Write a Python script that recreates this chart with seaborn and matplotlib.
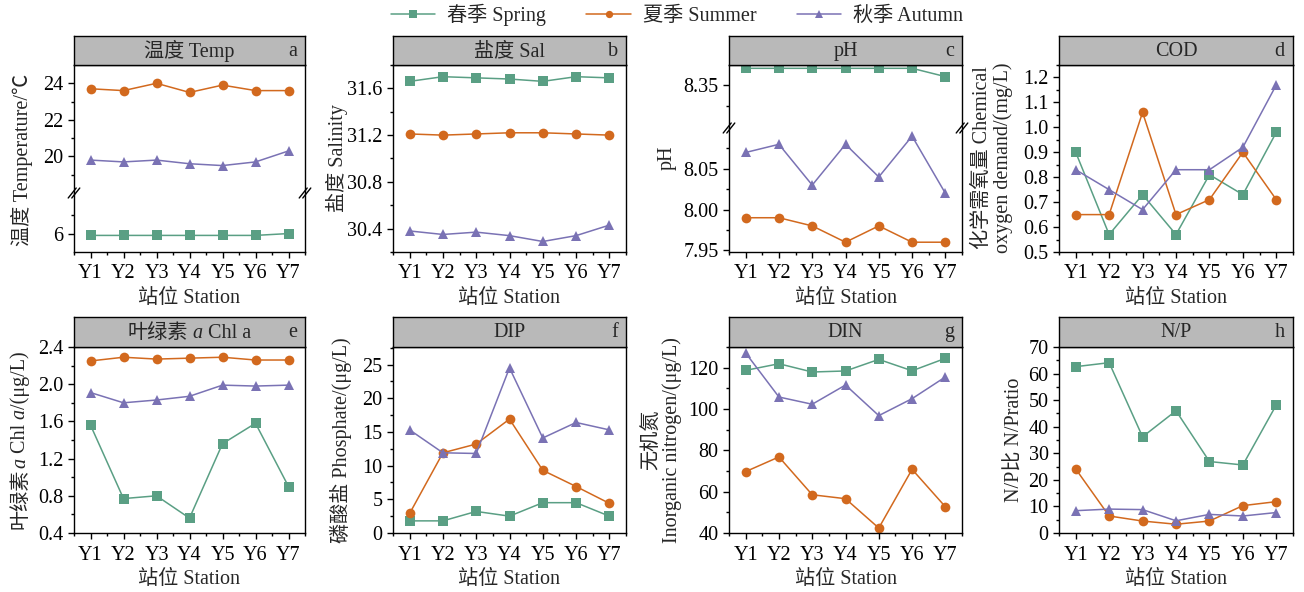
import matplotlib
matplotlib.use('Agg')
import numpy as np
import pandas as pd
import seaborn as sns
import matplotlib.pyplot as plt
from matplotlib.lines import Line2D
from matplotlib.ticker import MultipleLocator, FixedLocator, FormatStrFormatter
from matplotlib.transforms import offset_copy

# 站位与季节
stations = ['Y1', 'Y2', 'Y3', 'Y4', 'Y5', 'Y6', 'Y7']
seasons = ['春季 Spring', '夏季 Summer', '秋季 Autumn']

# 温度 Temp
temp_spring = [5.9, 5.9, 5.9, 5.9, 5.9, 5.9, 6.0]
temp_summer = [23.7, 23.6, 24.0, 23.5, 23.9, 23.6, 23.6]
temp_autumn = [19.8, 19.7, 19.8, 19.6, 19.5, 19.7, 20.3]
# 盐度 Sal
sal_spring = [31.66, 31.70, 31.69, 31.68, 31.66, 31.70, 31.69]
sal_summer = [31.21, 31.20, 31.21, 31.22, 31.22, 31.21, 31.20]
sal_autumn = [30.38, 30.35, 30.37, 30.34, 30.29, 30.34, 30.43]
# pH
ph_spring = [8.37, 8.37, 8.37, 8.37, 8.37, 8.37, 8.36]
ph_summer = [7.99, 7.99, 7.98, 7.96, 7.98, 7.96, 7.96]
ph_autumn = [8.07, 8.08, 8.03, 8.08, 8.04, 8.09, 8.02]
# COD
cod_spring = [0.90, 0.57, 0.73, 0.57, 0.81, 0.73, 0.98]
cod_summer = [0.65, 0.65, 1.06, 0.65, 0.71, 0.90, 0.71]
cod_autumn = [0.83, 0.75, 0.67, 0.83, 0.83, 0.92, 1.17]
# 叶绿素 a
chl_spring = [1.56, 0.77, 0.80, 0.56, 1.36, 1.58, 0.90]
chl_summer = [2.25, 2.29, 2.27, 2.28, 2.29, 2.26, 2.26]
chl_autumn = [1.91, 1.80, 1.83, 1.87, 1.99, 1.98, 1.99]
# DIP
dip_spring = [1.8, 1.8, 3.2, 2.5, 4.5, 4.5, 2.5]
dip_summer = [2.9, 11.9, 13.2, 16.9, 9.3, 6.9, 4.4]
dip_autumn = [15.3, 11.9, 11.8, 24.5, 14.1, 16.4, 15.3]
# DIN
din_spring = [118.7, 121.9, 117.9, 118.4, 124.0, 118.5, 124.5]
din_summer = [69.7, 76.8, 58.5, 56.6, 42.4, 70.8, 52.7]
din_autumn = [127.1, 105.8, 102.3, 111.6, 96.8, 105.0, 115.5]
# N/P
np_spring = [62.6, 64.1, 36.2, 46.0, 26.9, 25.6, 48.2]
np_summer = [24.1, 6.4, 4.5, 3.3, 4.5, 10.3, 11.8]
np_autumn = [8.4, 9.0, 8.8, 4.6, 7.0, 6.4, 7.7]

palette = {'春季 Spring': '#5a9f84', '夏季 Summer': '#d2691e', '秋季 Autumn': '#7a72b4'}
markers = {'春季 Spring': 's', '夏季 Summer': 'o', '秋季 Autumn': '^'}

sns.set_theme(style='ticks')
plt.rcParams['font.family'] = ['Liberation Serif', 'Noto Sans CJK SC']
plt.rcParams['axes.linewidth'] = 1.0
plt.rcParams['axes.edgecolor'] = 'black'
plt.rcParams['xtick.color'] = 'black'
plt.rcParams['ytick.color'] = 'black'
FS = 14.5

W, H = 1304, 592
fig = plt.figure(figsize=(W / 100, H / 100), dpi=100)


def rect(l, t, r, b):
    return [l / W, 1 - b / H, (r - l) / W, (b - t) / H]


def long_df(spring, summer, autumn):
    return pd.DataFrame({
        'station': stations * 3,
        'season': np.repeat(seasons, len(stations)),
        'value': spring + summer + autumn,
    })


def draw_lines(ax, df, legend=False):
    sns.lineplot(data=df, x='station', y='value', hue='season', style='season',
                 palette=palette, markers=markers, dashes=False, markersize=7,
                 markeredgewidth=0, linewidth=1.1, errorbar=None, ax=ax,
                 legend=legend)
    ax.set_xlabel('')
    ax.set_ylabel('')


def style_axis(ax, ylim, major, minor, show_x=True):
    ax.set_xlim(-0.5, 6.5)
    ax.set_ylim(*ylim)
    ax.yaxis.set_major_locator(FixedLocator(major) if isinstance(major, list) else MultipleLocator(major))
    ax.yaxis.set_minor_locator(FixedLocator(minor) if isinstance(minor, list) else MultipleLocator(minor))
    ax.xaxis.set_minor_locator(MultipleLocator(0.5))
    ax.tick_params(which='major', length=4, width=1, direction='out', labelsize=FS)
    ax.tick_params(which='minor', length=2.5, width=1, direction='out')
    ax.tick_params(axis='x', which='major', pad=5)
    if not show_x:
        ax.tick_params(axis='x', which='both', bottom=False, labelbottom=False)


def header(l, r, t, b, title, letter):
    hx = fig.add_axes(rect(l, t, r, b))
    hx.set_facecolor('#b9b9b9')
    hx.set_xticks([])
    hx.set_yticks([])
    if title is not None:
        hx.text(0.5, 0.47, title, ha='center', va='center', fontsize=FS, transform=hx.transAxes)
    hx.text(0.965, 0.47, letter, ha='right', va='center', fontsize=FS, transform=hx.transAxes)
    return hx


def break_marks(l, r, y):
    for x in (l, r):
        for o in (-1.8, 1.8):
            xs = [(x - 4 + o) / W, (x + 4 + o) / W]
            ys = [1 - (y + 5) / H, 1 - (y - 5) / H]
            fig.add_artist(Line2D(xs, ys, color='black', lw=1.0, transform=fig.transFigure))


def rich_text(x, y, pieces, rotation=0):
    renderer = fig.canvas.get_renderer()
    texts, lengths = [], []
    for s, st in pieces:
        t = fig.text(x, y, s, fontsize=FS, fontstyle=st, rotation=rotation,
                     rotation_mode='anchor', ha='left', va='baseline')
        bb = t.get_window_extent(renderer)
        texts.append(t)
        lengths.append(bb.width if rotation == 0 else bb.height)
    pos = -sum(lengths) / 2
    for t, L in zip(texts, lengths):
        dx, dy = (pos, 0) if rotation == 0 else (0, pos)
        t.set_transform(offset_copy(fig.transFigure, fig=fig, x=dx, y=dy, units='dots'))
        pos += L


cols = [(74, 305), (393, 626), (729, 962), (1059, 1293)]
row1 = (36, 65, 252)
row2 = (317, 347, 533)

# ---- a: 温度 (断轴) ----
l, r = cols[0]
df = long_df(temp_spring, temp_summer, temp_autumn)
ax_up = fig.add_axes(rect(l, row1[1], r, 193))
ax_lo = fig.add_axes(rect(l, 193, r, row1[2]))
draw_lines(ax_up, df)
draw_lines(ax_lo, df)
style_axis(ax_up, (18, 25), [20, 22, 24], [19, 21, 23], show_x=False)
style_axis(ax_lo, (5, 8.2), [6], [7])
ax_up.spines['bottom'].set_visible(False)
ax_lo.spines['top'].set_visible(False)
ax_lo.set_xlabel('站位 Station', fontsize=FS)
break_marks(l, r, 193)
header(l, r, row1[0], row1[1], '温度 Temp', 'a')
fig.text(22 / W, 1 - 160 / H, '温度 Temperature/℃', rotation=90, ha='center', va='center', fontsize=FS)

# ---- b: 盐度 ----
l, r = cols[1]
ax = fig.add_axes(rect(l, row1[1], r, row1[2]))
draw_lines(ax, long_df(sal_spring, sal_summer, sal_autumn), legend=True)
leg = ax.get_legend()
handles = leg.legend_handles
labels = [t.get_text() for t in leg.get_texts()]
leg.remove()
style_axis(ax, (30.2, 31.8), [30.4, 30.8, 31.2, 31.6], 0.2)
ax.set_xlabel('站位 Station', fontsize=FS)
header(l, r, row1[0], row1[1], '盐度 Sal', 'b')
fig.text(337 / W, 1 - 158 / H, '盐度 Salinity', rotation=90, ha='center', va='center', fontsize=FS)

# ---- c: pH (断轴) ----
l, r = cols[2]
df = long_df(ph_spring, ph_summer, ph_autumn)
ax_up = fig.add_axes(rect(l, row1[1], r, 128))
ax_lo = fig.add_axes(rect(l, 128, r, row1[2]))
draw_lines(ax_up, df)
draw_lines(ax_lo, df)
style_axis(ax_up, (8.298, 8.374), [8.35], [8.325], show_x=False)
style_axis(ax_lo, (7.948, 8.10), [7.95, 8.00, 8.05], [7.975, 8.025, 8.075])
ax_lo.yaxis.set_major_formatter(FormatStrFormatter('%.2f'))
ax_up.yaxis.set_major_formatter(FormatStrFormatter('%.2f'))
ax_up.spines['bottom'].set_visible(False)
ax_lo.spines['top'].set_visible(False)
ax_lo.set_xlabel('站位 Station', fontsize=FS)
break_marks(l, r, 128)
header(l, r, row1[0], row1[1], 'pH', 'c')
fig.text(667 / W, 1 - 158 / H, 'pH', rotation=90, ha='center', va='center', fontsize=FS)

# ---- d: COD ----
l, r = cols[3]
ax = fig.add_axes(rect(l, row1[1], r, row1[2]))
draw_lines(ax, long_df(cod_spring, cod_summer, cod_autumn))
style_axis(ax, (0.5, 1.25), 0.1, 0.05)
ax.yaxis.set_major_formatter(FormatStrFormatter('%.1f'))
ax.set_xlabel('站位 Station', fontsize=FS)
header(l, r, row1[0], row1[1], 'COD', 'd')
fig.text(993 / W, 1 - 158 / H, '化学需氧量 Chemical\noxygen demand/(mg/L)', rotation=90,
         ha='center', va='center', fontsize=FS, linespacing=1.05)

# ---- e: 叶绿素 a ----
l, r = cols[0]
ax = fig.add_axes(rect(l, row2[1], r, row2[2]))
draw_lines(ax, long_df(chl_spring, chl_summer, chl_autumn))
style_axis(ax, (0.4, 2.4), 0.4, 0.2)
ax.yaxis.set_major_formatter(FormatStrFormatter('%.1f'))
ax.set_xlabel('站位 Station', fontsize=FS)
header(l, r, row2[0], row2[1], None, 'e')
rich_text((l + r) / 2 / W, 1 - 338 / H, [('叶绿素', 'normal'), (' a', 'italic'), (' Chl a', 'normal')])
rich_text(25 / W, 1 - 440 / H, [('叶绿素', 'normal'), ('a', 'italic'), (' Chl', 'normal'),
                                 (' a', 'italic'), ('/(μg/L)', 'normal')], rotation=90)

# ---- f: DIP ----
l, r = cols[1]
ax = fig.add_axes(rect(l, row2[1], r, row2[2]))
draw_lines(ax, long_df(dip_spring, dip_summer, dip_autumn))
style_axis(ax, (0, 27.6), 5, 2.5)
ax.set_xlabel('站位 Station', fontsize=FS)
header(l, r, row2[0], row2[1], 'DIP', 'f')
fig.text(341 / W, 1 - 440 / H, '磷酸盐 Phosphate/(μg/L)', rotation=90, ha='center', va='center', fontsize=FS)

# ---- g: DIN ----
l, r = cols[2]
ax = fig.add_axes(rect(l, row2[1], r, row2[2]))
draw_lines(ax, long_df(din_spring, din_summer, din_autumn))
style_axis(ax, (40, 130), 20, 10)
ax.set_xlabel('站位 Station', fontsize=FS)
header(l, r, row2[0], row2[1], 'DIN', 'g')
fig.text(662 / W, 1 - 440 / H, '无机氮\nInorganic nitrogen/(μg/L)', rotation=90,
         ha='center', va='center', fontsize=FS, linespacing=1.05)

# ---- h: N/P ----
l, r = cols[3]
ax = fig.add_axes(rect(l, row2[1], r, row2[2]))
draw_lines(ax, long_df(np_spring, np_summer, np_autumn))
style_axis(ax, (0, 70), 10, 5)
ax.set_xlabel('站位 Station', fontsize=FS)
header(l, r, row2[0], row2[1], 'N/P', 'h')
fig.text(1015 / W, 1 - 440 / H, 'N/P比 N/Pratio', rotation=90, ha='center', va='center', fontsize=FS)

# 图例
fig.legend(handles, labels, loc='center', bbox_to_anchor=(677 / W, 1 - 15 / H), ncol=3,
           frameon=False, fontsize=FS, handlelength=2.2, columnspacing=2.0,
           handletextpad=0.6, markerscale=0.75)

fig.savefig('out.png', dpi=100)
